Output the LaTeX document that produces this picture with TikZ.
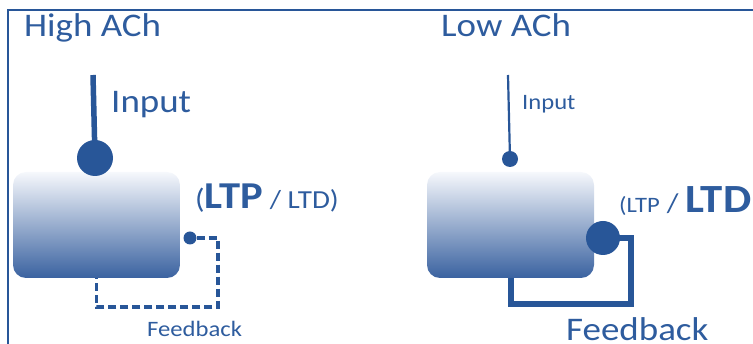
\documentclass[tikz,border=0pt]{standalone}
\usepackage{fontspec}
\setmainfont{Carlito}[FakeStretch=1.12]
\definecolor{achblue}{RGB}{40,86,152}
\definecolor{textblue}{RGB}{46,92,158}
\definecolor{boxtop}{RGB}{246,248,252}
\definecolor{boxmid}{RGB}{172,188,214}
\definecolor{boxbot}{RGB}{58,98,160}
\newcommand{\fsz}[1]{\fontsize{#1}{#1}\selectfont}
\tikzset{
  cell/.style={rounded corners=13pt, minimum width=167pt, minimum height=106pt,
    top color=boxtop, middle color=boxmid, bottom color=boxbot, inner sep=0pt},
  synapse/.style={circle, fill=achblue, inner sep=0pt, minimum size=#1},
  lbl/.style={anchor=base west, inner sep=0pt, text=textblue},
}
\begin{document}
\begin{tikzpicture}[x=1pt,y=-1pt]
		\useasboundingbox (0,0) rectangle (753,344);
		\clip (0,0) rectangle (753,344);
		\draw[achblue,line width=1.2pt](8,10) rectangle (770,360);

		% high ACh
		\node[lbl] (hititle) at (24,37) {\fsz{33}High ACh};
		\node[cell] (hibox) at (96.5,225) {};
		\node[synapse=36pt] (hisyn) at (95,158) {};
		\coordinate (hiin) at (93,75);
		\draw[achblue,line width=5.5pt](hiin)--(hisyn.center);
		\node[lbl] (hiinput) at (111,113) {\fsz{33}Input};
		\node[lbl] (hirule) at (195,209) {\fsz{28}(\fsz{38}\bfseries LTP\fsz{26}\mdseries\ / LTD)};
		\node[synapse=13pt] (hidot) at (190,238) {};
		\coordinate (hifb) at (218,307);
		\draw[achblue,line width=3.5pt,dash pattern=on 8pt off 4pt](hidot)-|(hifb)-|(hibox.south);
		\node[lbl] (hifeed) at (147,337) {\fsz{22}Feedback};

		% low ACh
		\node[lbl] (lotitle) at (441,37) {\fsz{33}Low ACh};
		\node[cell] (lobox) at (510.5,225) {};
		\node[synapse=16pt] (losyn) at (510,159) {};
		\coordinate (loin) at (508,75);
		\draw[achblue,line width=2.2pt](loin)--(losyn.center);
		\node[lbl] (loinput) at (522,110) {\fsz{22}Input};
		\node[lbl] (lorule) at (619,213) {\fsz{22}(LTP\fsz{27} / \fsz{40}\bfseries LTD};
		\coordinate (lofb) at (631,304);
		\draw[achblue,line width=6pt](603,238)-|(lofb)-|(lobox.south);
		\node[synapse=34pt] (losyn2) at (603,238) {};
		\node[lbl,text depth=0pt] (lofeed) at (566,341) {\fsz{33}Feedback};

	    \end{tikzpicture}
\end{document}
